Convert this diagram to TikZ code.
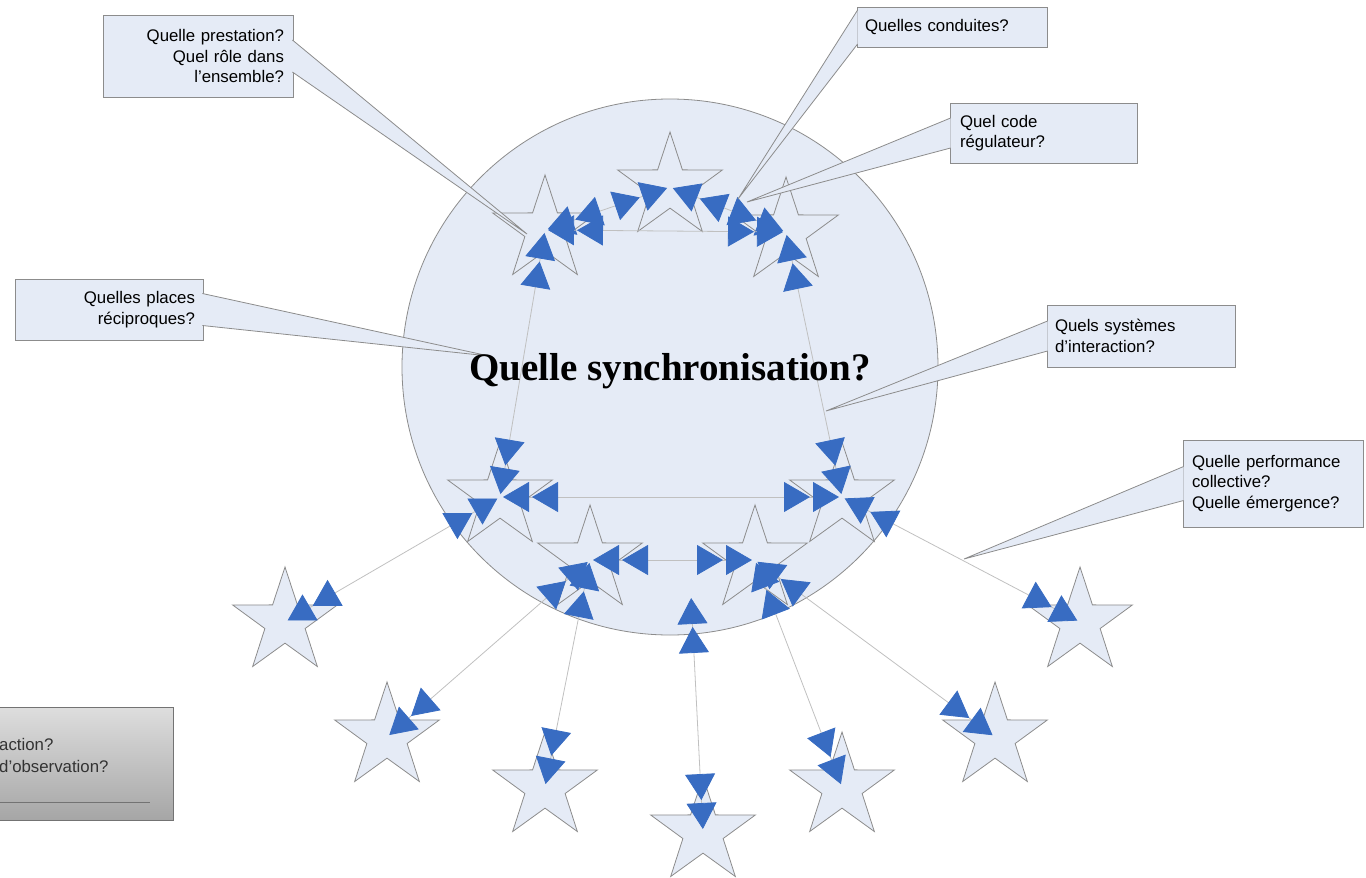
\documentclass[tikz,border=0pt]{standalone}
\usepackage{fontspec}
\setmainfont{Liberation Serif}
\setsansfont{Liberation Sans}
\usetikzlibrary{shapes.geometric,arrows.meta}

\definecolor{pale}{RGB}{229,235,246}
\definecolor{bord}{RGB}{140,140,140}
\definecolor{trait}{RGB}{192,192,192}
\definecolor{bleu}{RGB}{56,108,194}

\begin{document}
\begin{tikzpicture}[x=1pt, y=-1pt,
  every node/.style={inner sep=0pt},
  etoile/.style={star, star points=5, star point ratio=2.6, minimum size=110pt,
                 draw=bord, fill=pale, line width=.8pt},
  bulle/.style={draw=bord, fill=pale, line width=.8pt,
                font=\sffamily\fontsize{16.8}{20.5}\selectfont},
  lien/.style={draw=trait, line width=.8pt, <<->>},
  >={Triangle[length=26pt,width=30pt,sep=3pt,color=bleu]}]

  \useasboundingbox (0,0) rectangle (1366,878);
  \clip (0,0) rectangle (1366,878);

  \node[circle, draw=bord, fill=pale, line width=.8pt, minimum size=536pt] (rond) at (670,367) {};

  % the group
  \node[etoile] (sa) at (545,230) {};
  \node[etoile] (sb) at (670,187) {};
  \node[etoile] (sc) at (786,232) {};
  \node[etoile] (sd) at (842,497) {};
  \node[etoile] (se) at (755,560) {};
  \node[etoile] (sf) at (590,560) {};
  \node[etoile] (sg) at (500,497) {};
  % outside
  \node[etoile] (o1) at (285,622) {};
  \node[etoile] (o2) at (387,737) {};
  \node[etoile] (o3) at (545,787) {};
  \node[etoile] (o4) at (703,832) {};
  \node[etoile] (o5) at (842,787) {};
  \node[etoile] (o6) at (995,737) {};
  \node[etoile] (o7) at (1080,622) {};
  \coordinate (c4) at (691,595);

  \draw[lien] (sa.center) -- (sb.center);
  \draw[lien] (sb.center) -- (sc.center);
  \draw[lien] (sa.center) -- (sc.center);
  \draw[lien] (sa.center) -- (sg.center);
  \draw[lien] (sc.center) -- (sd.center);
  \draw[lien] (sg.center) -- (sd.center);
  \draw[lien] (sf.center) -- (se.center);
  \draw[lien] (sg.center) -- (o1.center);
  \draw[lien] (sf.center) -- (o2.center);
  \draw[lien] (sf.center) -- (o3.center);
  \draw[lien] (c4) -- (o4.center);
  \draw[lien] (se.center) -- (o5.center);
  \draw[lien] (se.center) -- (o6.center);
  \draw[lien] (sd.center) -- (o7.center);

  % questions
  \node[bulle, minimum width=190pt, minimum height=82pt, text width=172pt, align=right] (q1) at (198,56) {Quelle prestation?\\Quel rôle dans\\l’ensemble?};
  \node[bulle, minimum width=190pt, minimum height=40pt, text width=174pt, align=left] (q2) at (952,27) {Quelles conduites?};
  \node[bulle, minimum width=187pt, minimum height=60pt, text width=167pt, align=left] (q3) at (1043.5,133) {Quel code\\régulateur?};
  \node[bulle, minimum width=188pt, minimum height=61pt, text width=172pt, align=right] (q4) at (109,309.5) {Quelles places\\réciproques?};
  \node[bulle, minimum width=188pt, minimum height=62pt, text width=172pt, align=left] (q5) at (1141,336) {Quels systèmes\\d’interaction?};
  \node[bulle, minimum width=180pt, minimum height=87pt, text width=162pt, align=left] (q6) at (1273,483.5) {Quelle performance\\collective?\\Quelle émergence?};

  \coordinate (t1) at (527,234);
  \coordinate (t2) at (738,199);
  \coordinate (t3) at (747,202);
  \coordinate (t4) at (489,356);
  \coordinate (t5) at (826,411);
  \coordinate (t6) at (964,559);

  \filldraw[fill=pale, draw=bord, line width=.8pt] ([xshift=-1pt,yshift=16pt]q1.east) -- (t1) -- ([xshift=-1pt,yshift=-16pt]q1.east);
  \filldraw[fill=pale, draw=bord, line width=.8pt] ([xshift=1pt,yshift=17pt]q2.west) -- (t2) -- ([xshift=1pt,yshift=-17pt]q2.west);
  \filldraw[fill=pale, draw=bord, line width=.8pt] ([xshift=1pt,yshift=15pt]q3.west) -- (t3) -- ([xshift=1pt,yshift=-15pt]q3.west);
  \filldraw[fill=pale, draw=bord, line width=.8pt] ([xshift=-1pt,yshift=16pt]q4.east) -- (t4) -- ([xshift=-1pt,yshift=-16pt]q4.east);
  \filldraw[fill=pale, draw=bord, line width=.8pt] ([xshift=1pt,yshift=15pt]q5.west) -- (t5) -- ([xshift=1pt,yshift=-15pt]q5.west);
  \filldraw[fill=pale, draw=bord, line width=.8pt] ([xshift=1pt,yshift=17pt]q6.west) -- (t6) -- ([xshift=1pt,yshift=-17pt]q6.west);

  % grey box, cut by the page
  \node[draw=black!55, line width=.8pt, top color=black!13, bottom color=black!35,
        minimum width=203pt, minimum height=113pt] (q7) at (71.5,763.5) {};
  \node[font=\sffamily\fontsize{16.8}{22}\selectfont, text=black!80, align=left, anchor=west] (q7t) at (-1,755) {action?\\d’observation?};
  \draw[black!55, line width=1pt] ([yshift=18pt]q7.south west) -- ([xshift=-23pt,yshift=18pt]q7.south east);

  \node[font=\bfseries\fontsize{39}{42}\selectfont, anchor=base] (titre) at (670,380) {Quelle synchronisation?};
\end{tikzpicture}
\end{document}
